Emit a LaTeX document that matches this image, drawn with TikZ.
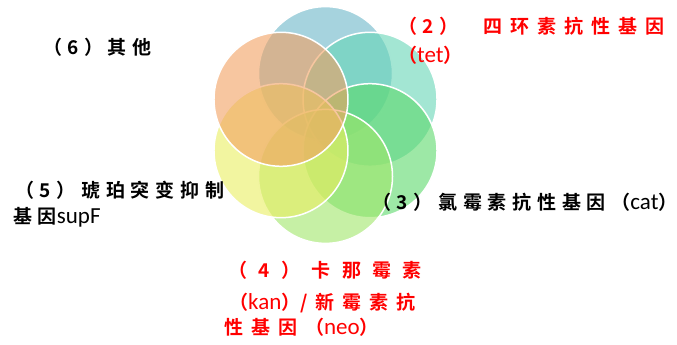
\documentclass[tikz,border=0pt]{standalone}
\usepackage{fontspec}
\setmainfont{Carlito}
\newfontfamily\cjk{Noto Sans CJK SC}[UprightFont=* Bold,LetterSpace=30]
\newfontfamily\cjkmid{Noto Sans CJK SC}[UprightFont=* Bold,LetterSpace=42]
\newfontfamily\cjkwide{Noto Sans CJK SC}[UprightFont=* Bold,LetterSpace=60]
\newfontfamily\cjktight{Noto Sans CJK SC}[UprightFont=* Bold]
\newcommand\lat[1]{{\fontsize{23}{24}\selectfont #1}}

\definecolor{petalblue}{RGB}{107,182,200}
\definecolor{petalteal}{RGB}{102,213,182}
\definecolor{petalgreen}{RGB}{92,217,107}
\definecolor{petallime}{RGB}{160,230,105}
\definecolor{petalyellow}{RGB}{233,238,97}
\definecolor{petalorange}{RGB}{242,160,97}

\begin{document}
\begin{tikzpicture}[x=1pt,y=1pt,
    petal/.style={draw=white,line width=1.5pt,fill opacity=0.6},
    label/.style={inner sep=0pt,anchor=base west,font=\fontsize{19}{22}\selectfont}]
        \useasboundingbox (0,0) rectangle (677,345);

        % Draw the six petals
        \foreach \ang/\col in {90/petalblue,30/petalteal,-30/petalgreen,-90/petallime,-150/petalyellow,150/petalorange} {
            \draw[petal,fill=\col] (325.5,220) ++(\ang:51.4) circle (67);
        }

        % Labels
        \node[label] (other) at (43,290) {\cjk （6）\hspace{4pt}其他};
        \node[label,red] (tetA) at (398,311) {{\cjk （2）}\hspace{25pt}{\cjkmid 四环素抗性基因}};
        \node[label,red] (tetB) at (398,282) {{\cjk （}\lat{tet}{\cjktight ）}};
        \node[label] (cat) at (372,135) {{\cjk （3）氯霉素抗性基因（}\lat{cat}{\cjktight ）}};
        \node[label] (supA) at (15,147) {\cjk （5）琥珀突变抑制};
        \node[label] (supB) at (13,121) {{\cjk 基因}\lat{supF}};
        \node[label,red] (kanA) at (228,67) {\cjkwide （4）卡那霉素};
        \node[label,red] (kanB) at (229,35) {{\cjk （}\lat{kan}{\cjk ）}{\cjkmid /新霉素抗}};
        \node[label,red] (neo) at (224,10) {{\cjkmid 性基因（}\lat{neo}{\cjktight ）}};
\end{tikzpicture}
\end{document}
